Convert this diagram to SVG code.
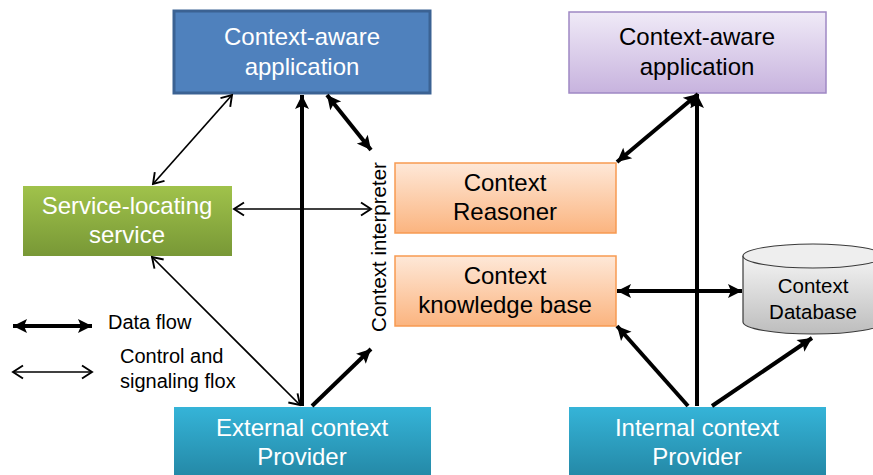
<svg xmlns="http://www.w3.org/2000/svg" width="873" height="475" viewBox="0 0 873 475">
<style>
text{font-family:"Liberation Sans",Arial,sans-serif;text-anchor:middle}
.nt{font-size:24px}
.w{fill:#ffffff}
.k{fill:#000000}
.lg{font-size:20px;text-anchor:start}
.thick{stroke:#000;stroke-width:4;fill:none}
.thin{stroke:#000;stroke-width:1.7;fill:none}
</style>
<defs>
<linearGradient id="gPurple" x1="0" y1="0" x2="0" y2="1"><stop offset="0" stop-color="#f0eaf7"/><stop offset="1" stop-color="#c7b3de"/></linearGradient>
<linearGradient id="gGreen" x1="0" y1="0" x2="0" y2="1"><stop offset="0" stop-color="#a0c24b"/><stop offset="1" stop-color="#789836"/></linearGradient>
<linearGradient id="gOrange" x1="0" y1="0" x2="0" y2="1"><stop offset="0" stop-color="#fee8d8"/><stop offset="1" stop-color="#fbb47f"/></linearGradient>
<linearGradient id="gTeal" x1="0" y1="0" x2="0" y2="1"><stop offset="0" stop-color="#35b4d8"/><stop offset="1" stop-color="#2488a6"/></linearGradient>
<linearGradient id="gGray" x1="0" y1="0" x2="0" y2="1"><stop offset="0" stop-color="#f4f4f4"/><stop offset="1" stop-color="#bdbdbd"/></linearGradient>
<marker id="aThick" markerUnits="userSpaceOnUse" viewBox="0 0 16 16" refX="15" refY="8" markerWidth="16" markerHeight="16" orient="auto-start-reverse"><path d="M1,1 L15,8 L1,15 L4,8 Z" fill="#000"/></marker>
<marker id="aThin" markerUnits="userSpaceOnUse" viewBox="0 0 14 16" refX="12" refY="8" markerWidth="14" markerHeight="16" orient="auto-start-reverse"><path d="M2,1.5 L12,8 L2,14.5" fill="none" stroke="#000" stroke-width="1.9"/></marker>
</defs>

<g id="app-left"><rect x="174" y="11" width="256" height="82" fill="#4f81bd" stroke="#3b6293" stroke-width="3"/><text class="nt w" x="302" y="45">Context-aware</text><text class="nt w" x="302" y="75">application</text></g>
<g id="app-right"><rect x="569" y="12" width="257" height="81" fill="url(#gPurple)" stroke="#9f88c4" stroke-width="1.5"/><text class="nt k" x="697" y="45">Context-aware</text><text class="nt k" x="697" y="75">application</text></g>
<g id="service-locating"><rect x="23" y="186" width="209" height="70" fill="url(#gGreen)"/><text class="nt w" x="127" y="214">Service-locating</text><text class="nt w" x="127" y="243">service</text></g>
<g id="reasoner"><rect x="395" y="163" width="221" height="70" fill="url(#gOrange)" stroke="#f79a52" stroke-width="1.5"/><text class="nt k" x="505" y="191">Context</text><text class="nt k" x="505" y="220">Reasoner</text></g>
<g id="knowledge-base"><rect x="395" y="256" width="221" height="70" fill="url(#gOrange)" stroke="#f79a52" stroke-width="1.5"/><text class="nt k" x="505" y="284">Context</text><text class="nt k" x="505" y="313">knowledge base</text></g>
<g id="interpreter-label"><text x="0" y="0" font-size="20.5" transform="translate(386,247) rotate(-90)" class="k">Context interpreter</text></g>
<g id="external-provider"><rect x="174" y="407" width="257" height="70" fill="url(#gTeal)"/><text class="nt w" x="302" y="436">External context</text><text class="nt w" x="302" y="465">Provider</text></g>
<g id="internal-provider"><rect x="569" y="407" width="257" height="70" fill="url(#gTeal)"/><text class="nt w" x="697" y="436">Internal context</text><text class="nt w" x="697" y="465">Provider</text></g>
<g id="database"><path d="M743,256 L743,322 A70,12 0 0 0 883,322 L883,256" fill="url(#gGray)" stroke="#3a3a3a" stroke-width="1.2"/><ellipse cx="813" cy="256" rx="70" ry="12" fill="#eeeeee" stroke="#3a3a3a" stroke-width="1.2"/><text x="813" y="293" font-size="20.5" class="k">Context</text><text x="813" y="319" font-size="20.5" class="k">Database</text></g>

<g id="connectors">
<line class="thin" x1="232" y1="95" x2="153" y2="184" marker-start="url(#aThin)" marker-end="url(#aThin)"/>
<line class="thick" x1="302" y1="406" x2="302" y2="95" marker-end="url(#aThick)"/>
<line class="thick" x1="327" y1="95" x2="371" y2="150" marker-start="url(#aThick)" marker-end="url(#aThick)"/>
<line class="thin" x1="234" y1="209" x2="371" y2="209" marker-start="url(#aThin)" marker-end="url(#aThin)"/>
<line class="thin" x1="152" y1="257" x2="300" y2="405" marker-start="url(#aThin)" marker-end="url(#aThin)"/>
<line class="thick" x1="312" y1="406" x2="371" y2="349" marker-end="url(#aThick)"/>
<line class="thick" x1="617" y1="162" x2="698" y2="94" marker-start="url(#aThick)" marker-end="url(#aThick)"/>
<line class="thick" x1="697" y1="406" x2="697" y2="94" marker-end="url(#aThick)"/>
<line class="thick" x1="617" y1="291" x2="742" y2="291" marker-start="url(#aThick)" marker-end="url(#aThick)"/>
<line class="thick" x1="688" y1="406" x2="617" y2="326" marker-end="url(#aThick)"/>
<line class="thick" x1="712" y1="406" x2="812" y2="338" marker-end="url(#aThick)"/>
</g>

<g id="legend">
<line class="thick" x1="13" y1="326" x2="92" y2="326" marker-start="url(#aThick)" marker-end="url(#aThick)"/>
<line class="thin" x1="13" y1="372" x2="92" y2="372" marker-start="url(#aThin)" marker-end="url(#aThin)"/>
<text class="lg k" x="108" y="329">Data flow</text>
<text class="lg k" x="120" y="363">Control and</text>
<text class="lg k" x="120" y="388">signaling flox</text>
</g>
</svg>
